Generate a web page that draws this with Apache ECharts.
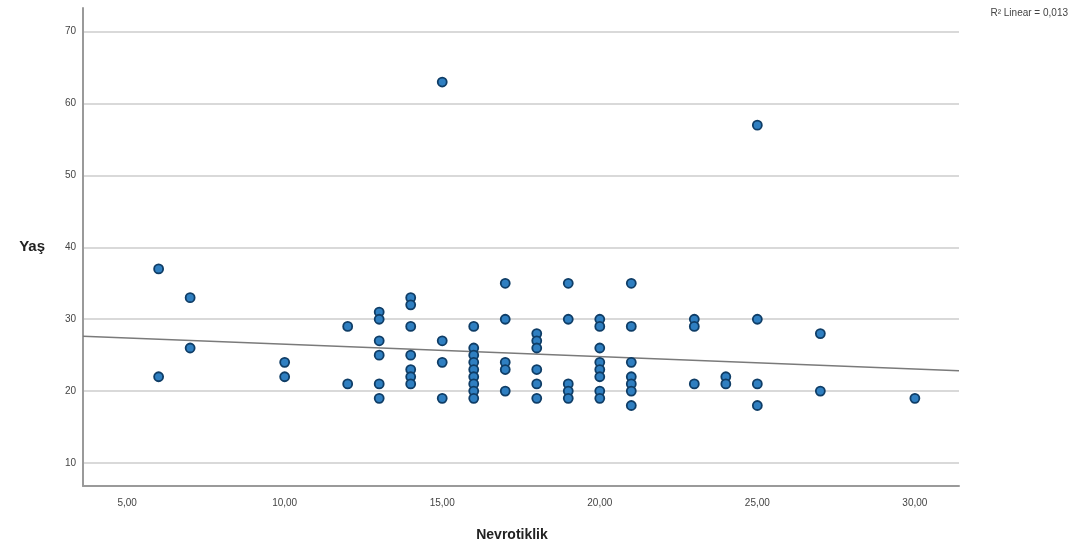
<!DOCTYPE html>
<html>
<head>
<meta charset="utf-8">
<script src="https://cdn.jsdelivr.net/npm/echarts@6/dist/echarts.min.js"></script>
<style>
html,body{margin:0;padding:0;background:#fff;}
#chart{width:1080px;height:547px;}
</style>
</head>
<body>
<div id="chart"></div>
<script>
// Nevrotiklik (x) values and Yaş (y) values, read per column
const nevrotiklik = [
  6,6,
  7,7,
  10,10,
  12,12,
  13,13,13,13,13,13,
  14,14,14,14,14,14,14,
  15,15,15,15,
  16,16,16,16,16,16,16,16,16,
  17,17,17,17,17,
  18,18,18,18,18,18,
  19,19,19,19,19,
  20,20,20,20,20,20,20,20,
  21,21,21,21,21,21,21,
  23,23,23,
  24,24,
  25,25,25,25,
  27,27,
  30
];
const yas = [
  37,22,
  33,26,
  24,22,
  29,21,
  31,30,27,25,21,19,
  33,32,29,25,23,22,21,
  63,27,24,19,
  29,26,25,24,23,22,21,20,19,
  35,30,24,23,20,
  28,27,26,23,21,19,
  35,30,21,20,19,
  30,29,26,24,23,22,20,19,
  35,29,24,22,21,20,18,
  30,29,21,
  22,21,
  57,30,21,18,
  28,20,
  19
];
// Fit line end points
const fitX = [3.6, 31.4];
const fitY = [27.64, 22.82];
const yTicks = [10, 20, 30, 40, 50, 60, 70];
const xTicks = [5, 10, 15, 20, 25, 30];
const r2Label = 'R² Linear = 0,013';

const points = nevrotiklik.map((x, i) => [x, yas[i]]);
const fitLine = fitX.map((x, i) => [x, fitY[i]]);

const chart = echarts.init(document.getElementById('chart'));
chart.setOption({
  animation: false,
  backgroundColor: '#ffffff',
  grid: { left: 83, right: 121, top: 8, bottom: 60 },
  xAxis: {
    type: 'value',
    min: 3.6, max: 31.4,
    splitNumber: 5,
    name: 'Nevrotiklik',
    nameLocation: 'middle',
    nameGap: 42,
    nameTextStyle: { fontFamily: 'Liberation Sans, Arial, sans-serif', fontSize: 14, fontWeight: 'bold', color: '#222', padding: [0, 18, 0, 0] },
    axisLine: { show: true, lineStyle: { color: '#9a9a9a', width: 2 } },
    axisTick: { show: false },
    splitLine: { show: false },
    axisLabel: {
      showMinLabel: false, showMaxLabel: false,
      margin: 12,
      fontFamily: 'Liberation Sans, Arial, sans-serif', fontSize: 10, color: '#444',
      formatter: v => xTicks.includes(v) ? v.toFixed(2).replace('.', ',') : ''
    }
  },
  yAxis: {
    type: 'value',
    min: 6.8, max: 73.3,
    splitNumber: 7,
    name: 'Yaş',
    nameLocation: 'middle',
    nameRotate: 0,
    nameGap: 38,
    nameTextStyle: { fontFamily: 'Liberation Sans, Arial, sans-serif', fontSize: 15, fontWeight: 'bold', color: '#222', align: 'right', padding: [4, 0, 0, 0] },
    axisLine: { show: true, lineStyle: { color: '#9a9a9a', width: 2 } },
    axisTick: { show: false },
    splitLine: { show: true, showMinLine: false, showMaxLine: false, lineStyle: { color: '#d9d9d9', width: 2 } },
    axisLabel: {
      showMinLabel: false, showMaxLabel: false,
      margin: 7,
      fontFamily: 'Liberation Sans, Arial, sans-serif', fontSize: 10, color: '#444',
      formatter: v => yTicks.includes(v) ? String(v) : ''
    }
  },
  graphic: [{
    type: 'text',
    right: 12, top: 8,
    style: { text: r2Label, fontFamily: 'Liberation Sans, Arial, sans-serif', fontSize: 10, fill: '#444' }
  }],
  series: [
    {
      type: 'line',
      data: fitLine,
      symbol: 'none',
      lineStyle: { color: '#7a7a7a', width: 1.5 },
      z: 2
    },
    {
      type: 'scatter',
      data: points,
      symbol: 'circle',
      symbolSize: 9,
      itemStyle: { color: '#2f7fc1', borderColor: '#0f3d66', borderWidth: 1.8, opacity: 1 },
      z: 3
    }
  ]
});
</script>
</body>
</html>
